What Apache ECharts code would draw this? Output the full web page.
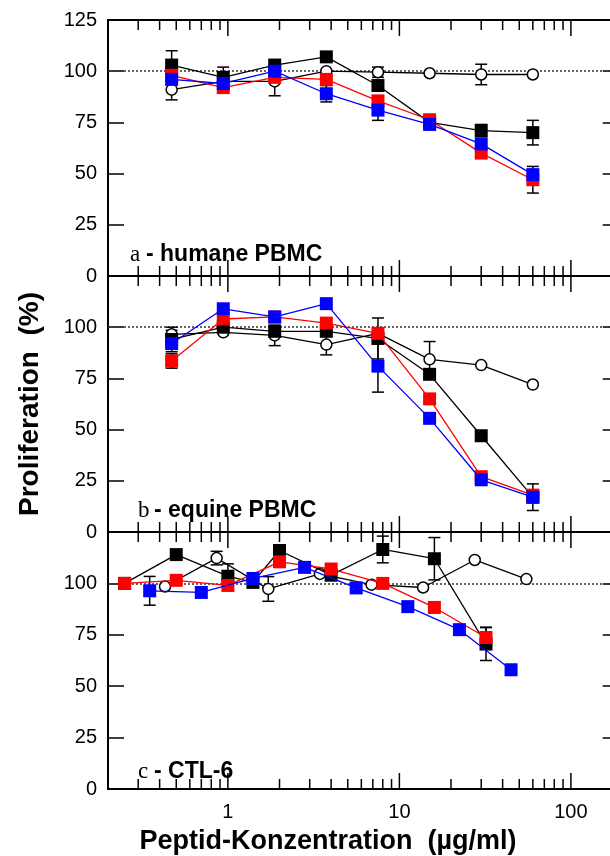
<!DOCTYPE html>
<html><head><meta charset="utf-8">
<script src="https://cdn.jsdelivr.net/npm/echarts@6/dist/echarts.min.js"></script>
<style>html,body{margin:0;padding:0;background:#fff}#c{width:610px;height:856px}</style>
</head><body><div id="c"></div>
<script>
// ---------- DATA ----------
// x tick values / labels
const xTickMajor = [1, 10, 100];
const xTickMinor = [0.3,0.4,0.5,0.6,0.7,0.8,0.9,2,3,4,5,6,7,8,9,20,30,40,50,60,70,80,90];
const xTickLabels = ['1', '10', '100'];
const yTicks = [0, 25, 50, 75, 100, 125];

// Panel a - humane PBMC
const xA = [0.47, 0.94, 1.875, 3.75, 7.5, 15, 30, 60];
const aCircle = [91, 95, 95, 100, 99.5, 99, 98.4, 98.4];
const aBlack  = [103, 97, 103, 107, 93, 75, 71, 70];
const aRed    = [98, 92, 97, 96, 85.5, 76.3, 60, 47];
const aBlue   = [96, 94, 100, 89, 81, 74, 64.5, 49.5];
const aCircleErr = [5, 0, 7, 0, 2.5, 0, 5, 0];
const aBlackErr  = [7, 5, 0, 0, 0, 0, 3, 6];
const aRedErr    = [0, 0, 0, 0, 2.5, 0, 0, 6.5];
const aBlueErr   = [0, 0, 0, 4, 5, 0, 0, 0];

// Panel b - equine PBMC
const xB = [0.47, 0.94, 1.875, 3.75, 7.5, 15, 30, 60];
const bCircle = [96.5, 97.5, 96, 91.5, 97, 84.3, 81.5, 72];
const bBlack  = [94, 100, 98, 98, 94.5, 77, 47, 17];
const bRed    = [83.5, 104, 105, 102, 97, 65, 27, 18];
const bBlue   = [92, 109, 105, 111.5, 81, 55.5, 25.5, 17];
const bCircleErr = [2, 0, 5, 5, 0, 8.7, 0, 0];
const bBlackErr  = [6, 0, 0, 0, 10, 0, 0, 6.5];
const bRedErr    = [3.5, 0, 0, 0, 0, 0, 0, 0];
const bBlueErr   = [0, 0, 0, 0, 12.7, 0, 0, 0];

// Panel c - CTL-6
const xCCircle = [0.43, 0.86, 1.72, 3.44, 6.88, 13.75, 27.5, 55];
const cCircle  = [98.5, 112.3, 97.3, 104.6, 99.4, 98, 111.4, 102.1];
const xCBlack  = [0.25, 0.5, 1, 1.4, 2, 4, 8, 16, 32];
const cBlack   = [100, 114, 103.5, 100.5, 116, 104, 116.5, 112, 70.5];
const xCRed    = [0.25, 0.5, 1, 2, 4, 8, 16, 32];
const cRed     = [100, 101.5, 99, 110.5, 107, 100, 88.3, 73.7];
const xCBlue   = [0.35, 0.7, 1.4, 2.8, 5.6, 11.2, 22.4, 44.8];
const cBlue    = [96.4, 95.6, 102.4, 107.8, 97.8, 88.7, 77.5, 58];
const cCircleErr = [0, 3.3, 6, 0, 0, 0, 0, 0];
const cBlackErr  = [0, 0, 6, 0, 0, 0, 6.5, 10.3, 8];
const cRedErr    = [0, 0, 0, 0, 0, 0, 0, 5];
const cBlueErr   = [7, 0, 0, 0, 0, 0, 0, 0];

const panelTitles = [['a', '- humane PBMC'], ['b', '- equine PBMC'], ['c', '- CTL-6']];
const yTitle = 'Proliferation  (%)';
const xTitle = 'Peptid-Konzentration  (µg/ml)';

// ---------- CHART ----------
const chart = echarts.init(document.getElementById('c'));
const FONT = 'Liberation Sans';
const X_MIN = 0.2, X_MAX = 190;
const gridsPx = [{top: 20, height: 256}, {top: 276, height: 256}, {top: 532, height: 257}];
const LEFT = 108, WIDTH = 510.7;

const grids = gridsPx.map(g => ({left: LEFT, width: WIDTH, top: g.top, height: g.height,
  show: true, borderColor: '#000', borderWidth: 2, backgroundColor: 'transparent',
  containLabel: false, outerBoundsMode: 'none'}));

const xAxes = gridsPx.map((g, i) => ({
  type: 'log', logBase: 10, gridIndex: i, min: X_MIN, max: X_MAX,
  axisLine: {show: false}, axisTick: {show: false}, splitLine: {show: false}, minorTick: {show: false},
  axisLabel: {show: i === 2, color: '#000', fontFamily: FONT, fontSize: 20, margin: 13,
    showMinLabel: false, showMaxLabel: false,
    formatter: v => { const l = Math.log10(v); const s = String(Math.round(v));
      return (Math.abs(l - Math.round(l)) < 1e-6 && xTickLabels.includes(s)) ? s : ''; }}
}));

const yAxes = [];
gridsPx.forEach((g, i) => {
  yAxes.push({type: 'value', gridIndex: i, min: 0, max: 125, interval: 25, position: 'left',
    axisLine: {show: false}, splitLine: {show: false},
    axisTick: {show: true, inside: true, length: 16, lineStyle: {color: '#000', width: 1.5}},
    axisLabel: {color: '#000', fontFamily: FONT, fontSize: 20, margin: 11,
      formatter: v => (i > 0 && v === 125) ? '' : String(v)},
    name: i === 1 ? yTitle : '', nameLocation: 'middle', nameGap: 64, nameRotate: 90,
    nameTextStyle: {color: '#000', fontFamily: FONT, fontWeight: 'bold', fontSize: 28}
  });
  yAxes.push({type: 'value', gridIndex: i, min: 0, max: 125, interval: 25, position: 'right',
    axisLine: {show: false}, splitLine: {show: false}, axisLabel: {show: false},
    axisTick: {show: true, inside: true, length: 16, lineStyle: {color: '#000', width: 1.5}}});
});

const series = [];

// x ticks (top & bottom, inward) through the log axis
const tickData = xTickMinor.map(v => [v, 0]).concat(xTickMajor.map(v => [v, 1]));
gridsPx.forEach((g, i) => {
  series.push({type: 'custom', xAxisIndex: i, yAxisIndex: i * 2, z: 1, silent: true,
    encode: {x: 0}, data: tickData,
    renderItem: (params, api) => {
      const v = api.value(0); const len = api.value(1) === 1 ? 16 : 10;
      const t = api.coord([v, 125]); const b = api.coord([v, 0]);
      const st = {stroke: '#000', lineWidth: 1.5};
      return {type: 'group', children: [
        {type: 'line', shape: {x1: t[0], y1: t[1], x2: t[0], y2: t[1] + len}, style: st},
        {type: 'line', shape: {x1: b[0], y1: b[1], x2: b[0], y2: b[1] - len}, style: st}]};
    },
    markLine: {silent: true, symbol: 'none', z: 1, label: {show: false},
      lineStyle: {type: [2, 2], color: '#333', width: 1.5}, data: [{yAxis: 100}]}
  });
});

function errSeries(gi, xs, ys, errs) {
  const d = [];
  xs.forEach((x, k) => { if (errs[k] > 0) d.push([x, ys[k] - errs[k], ys[k] + errs[k]]); });
  return {type: 'custom', xAxisIndex: gi, yAxisIndex: gi * 2, z: 2, silent: true,
    encode: {x: 0, y: [1, 2]}, data: d,
    renderItem: (params, api) => {
      const x = api.value(0);
      const p1 = api.coord([x, api.value(2)]); const p2 = api.coord([x, api.value(1)]);
      const w = 6; const st = {stroke: '#000', lineWidth: 1.5};
      return {type: 'group', children: [
        {type: 'line', shape: {x1: p1[0], y1: p1[1], x2: p2[0], y2: p2[1]}, style: st},
        {type: 'line', shape: {x1: p1[0] - w, y1: p1[1], x2: p1[0] + w, y2: p1[1]}, style: st},
        {type: 'line', shape: {x1: p2[0] - w, y1: p2[1], x2: p2[0] + w, y2: p2[1]}, style: st}]};
    }};
}

const KIND = {
  circle: {symbol: 'circle', size: 11, line: '#000', item: {color: '#fff', borderColor: '#000', borderWidth: 1.5}, z: 3},
  black:  {symbol: 'rect', size: 13, line: '#000', item: {color: '#000'}, z: 4},
  red:    {symbol: 'rect', size: 13, line: '#ff0000', item: {color: '#ff0000'}, z: 5},
  blue:   {symbol: 'rect', size: 13, line: '#0000ff', item: {color: '#0000ff'}, z: 6}
};
function lineSeries(gi, xs, ys, kind) {
  const k = KIND[kind];
  return {type: 'line', xAxisIndex: gi, yAxisIndex: gi * 2, z: k.z, silent: true,
    data: xs.map((x, i) => [x, ys[i]]), symbol: k.symbol, symbolSize: k.size, showAllSymbol: true,
    lineStyle: {color: k.line, width: 1.3}, itemStyle: k.item};
}

const panels = [
  [[xA, aCircle, aCircleErr, 'circle'], [xA, aBlack, aBlackErr, 'black'], [xA, aRed, aRedErr, 'red'], [xA, aBlue, aBlueErr, 'blue']],
  [[xB, bCircle, bCircleErr, 'circle'], [xB, bBlack, bBlackErr, 'black'], [xB, bRed, bRedErr, 'red'], [xB, bBlue, bBlueErr, 'blue']],
  [[xCCircle, cCircle, cCircleErr, 'circle'], [xCBlack, cBlack, cBlackErr, 'black'], [xCRed, cRed, cRedErr, 'red'], [xCBlue, cBlue, cBlueErr, 'blue']]
];
panels.forEach((p, gi) => {
  p.forEach(s => series.push(errSeries(gi, s[0], s[1], s[2])));
  p.forEach(s => series.push(lineSeries(gi, s[0], s[1], s[3])));
});

const labelBase = [243, 499, 760];
const labelX = [130, 138, 138];
const graphic = [];
panelTitles.forEach((t, i) => {
  graphic.push({type: 'text', x: labelX[i], y: labelBase[i], silent: true,
    style: {text: t[0], fill: '#000', font: '23px "Liberation Serif"', textVerticalAlign: 'alphabetic', verticalAlign: 'alphabetic'}});
  graphic.push({type: 'text', x: labelX[i] + 16, y: labelBase[i], silent: true,
    style: {text: t[1], fill: '#000', font: 'bold 23px "Liberation Sans"', textVerticalAlign: 'alphabetic', verticalAlign: 'alphabetic'}});
});
graphic.push({type: 'text', x: 328, y: 842, silent: true,
  style: {text: xTitle, fill: '#000', font: 'bold 27px "Liberation Sans"', align: 'center', verticalAlign: 'middle', textAlign: 'center', textVerticalAlign: 'middle'}});

chart.setOption({animation: false, backgroundColor: '#fff', grid: grids, xAxis: xAxes, yAxis: yAxes, series, graphic});
</script></body></html>
